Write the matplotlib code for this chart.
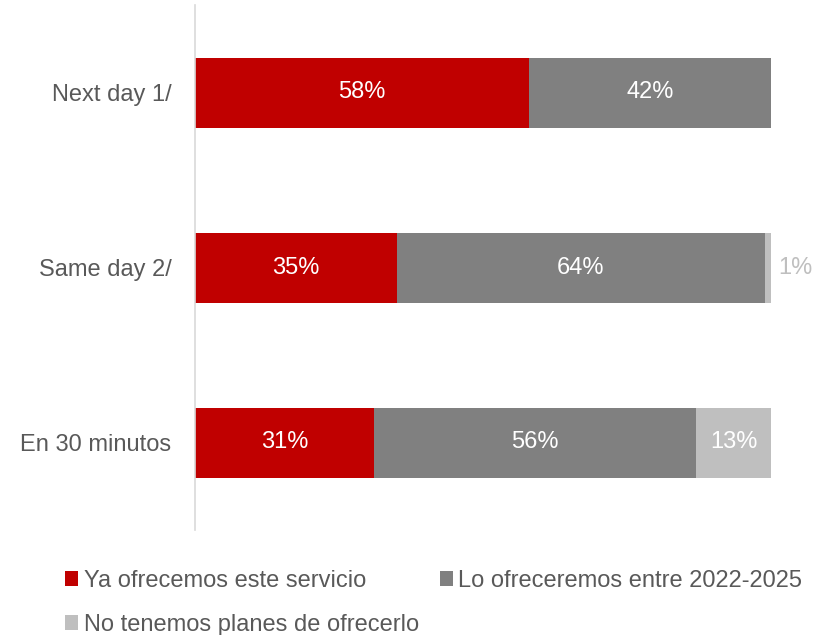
import matplotlib
matplotlib.use("Agg")
import matplotlib.pyplot as plt
from matplotlib.patches import Patch

plt.rcParams["font.family"] = ["Liberation Sans", "DejaVu Sans"]

categories = ["Next day 1/", "Same day 2/", "En 30 minutos"]
ya_ofrecemos = [58, 35, 31]
lo_ofreceremos = [42, 64, 56]
no_planes = [0, 1, 13]
series_names = [
    "Ya ofrecemos este servicio",
    "Lo ofreceremos entre 2022-2025",
    "No tenemos planes de ofrecerlo",
]
colors = ["#C00000", "#808080", "#BFBFBF"]
label_color = "#595959"
fs = 17

fig = plt.figure(figsize=(8.28, 6.35), dpi=100)
ax = fig.add_axes([195 / 828, 1 - 530 / 635, (771 - 195) / 828, 525 / 635])

ypos = list(range(len(categories)))
left = [0] * len(categories)
for vals, col in zip([ya_ofrecemos, lo_ofreceremos, no_planes], colors):
    ax.barh(ypos, vals, left=left, height=0.4, color=col, edgecolor="none")
    for y, v, l in zip(ypos, vals, left):
        if v == 0:
            continue
        # small segments get their label just past the bar end
        if v >= 5:
            ax.text(l + v / 2, y, f"{v}%", ha="center", va="center",
                    color="white", fontsize=fs)
        else:
            ax.text(l + v + 1.2, y, f"{v}%", ha="left", va="center",
                    color=col, fontsize=fs)
    left = [a + b for a, b in zip(left, vals)]

ax.set_xlim(0, 100)
ax.set_ylim(2.5, -0.5)
ax.set_yticks(ypos)
ax.set_yticklabels(categories, fontsize=fs, color=label_color)
ax.tick_params(axis="y", length=0, pad=17)
ax.set_xticks([])
for side in ["top", "right", "bottom"]:
    ax.spines[side].set_visible(False)
ax.spines["left"].set_color("#D9D9D9")
ax.spines["left"].set_linewidth(1.2)

handles = [Patch(facecolor=c, edgecolor="none") for c in colors]
order = [0, 2, 1]
fig.legend([handles[i] for i in order], [series_names[i] for i in order],
           ncol=2, loc="upper left", bbox_to_anchor=(65 / 828, 1 - 570 / 635),
           frameon=False, fontsize=fs, labelcolor=label_color,
           handlelength=0.57, handleheight=0.57, handletextpad=0.22,
           columnspacing=0.88, labelspacing=0.93, borderpad=0, borderaxespad=0)

fig.savefig("out.png", dpi=100, facecolor="white")
